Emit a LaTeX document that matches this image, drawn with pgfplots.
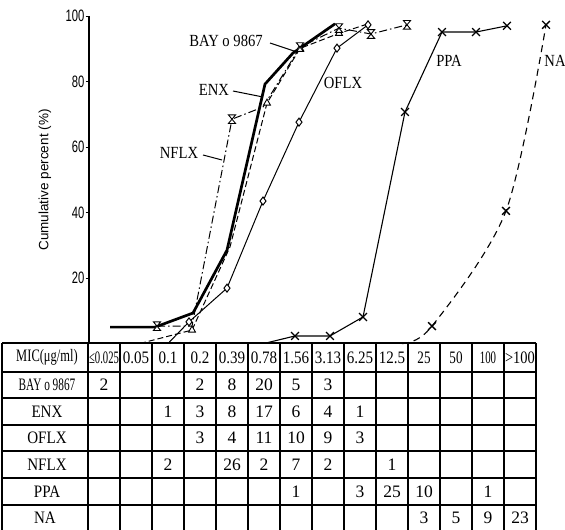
\documentclass[border=0pt]{standalone}
\usepackage{pgfplots}
\pgfplotsset{compat=1.18}
\usepackage{graphicx}
\usepackage{fontspec}
\setmainfont{Liberation Serif}
\newfontfamily\condsans[FakeStretch=0.68]{Liberation Sans}
\newfontfamily\lsans{Liberation Sans}
\newfontfamily\cserif[FakeStretch=0.86]{Liberation Serif}

\pgfdeclareplotmark{hourglass}{%
  \pgfpathmoveto{\pgfqpoint{-\pgfplotmarksize}{1.2\pgfplotmarksize}}%
  \pgfpathlineto{\pgfqpoint{\pgfplotmarksize}{1.2\pgfplotmarksize}}%
  \pgfpathlineto{\pgfqpoint{-\pgfplotmarksize}{-1.2\pgfplotmarksize}}%
  \pgfpathlineto{\pgfqpoint{\pgfplotmarksize}{-1.2\pgfplotmarksize}}%
  \pgfpathclose
  \pgfusepathqfillstroke}

\newcommand{\hs}[2]{\scalebox{#1}[1]{#2}}

\begin{document}
\begin{tikzpicture}[x=1pt,y=1pt]
\begin{axis}[
  at={(89pt,186.5pt)}, anchor=south west,
  scale only axis, width=471pt, height=327.5pt,
  xmin=89, xmax=560, ymin=0, ymax=100,
  axis x line=none, axis y line=left,
  axis line style={line width=1.3pt,-},
  ytick={20,40,60,80,100},
  tick align=outside, major tick length=3.5pt,
  ytick style={line width=0.9pt, black},
  yticklabel style={font=\condsans\fontsize{16.5}{16.5}\selectfont, inner xsep=1pt},
  /pgf/number format/assume math mode=true,
  clip=false,
]
% BAY o 9867
\addplot[black, line width=2.7pt, line join=round] coordinates {
 (110,5.0) (155,5.0) (193,9.3) (227,28.5) (265,79.2) (293,88.7) (335,97.6)};
% ENX
\addplot[black, line width=1pt, dash pattern=on 6pt off 3pt,
  mark=triangle*, mark size=4pt, mark indices={2,4,5,6},
  mark options={solid, fill=white, line width=0.9pt}] coordinates {
 (140,0) (192,4.1) (230,29.5) (267,73.4) (300,90.1) (339,94.7) (368,97.6)};
% OFLX
\addplot[black, line width=1pt,
  mark=diamond*, mark size=4pt, mark indices={2,3,4,5,6,7},
  mark options={solid, fill=white, line width=1pt}] coordinates {
 (168,0) (189,6.6) (227,16.9) (263,43.5) (299,67.6) (337,90.2) (368,97.3)};
% NFLX
\addplot[black, line width=1pt, dash pattern=on 8pt off 3pt on 1.5pt off 3pt,
  mark=hourglass, mark size=3.6pt, mark indices={1,3,5,6,7,8},
  mark options={solid, fill=white, line width=0.9pt}] coordinates {
 (157,5.3) (192,5.3) (232,68.5) (263,72.2) (300,90.5) (339,96.3) (371,94.5) (407,97.3)};
% PPA
\addplot[black, line width=1.1pt,
  mark=x, mark size=5.5pt, mark indices={2,3,4,5,6,7,8},
  mark options={solid, line width=1.3pt}] coordinates {
 (268,0.3) (295,2.3) (330,2.3) (363,8.1) (405,70.7) (442,95.1) (476,95.1) (507,97.0)};
% NA
\addplot[black, line width=1.1pt, dash pattern=on 7pt off 5pt, smooth,
  mark=x, mark size=5.5pt, mark indices={2,3,4},
  mark options={solid, line width=1.3pt}] coordinates {
 (402,0) (432,5.3) (506,40.5) (546,97.3)};
\end{axis}

\begin{scope}[y=-1pt, yshift=530pt]
  % y label
  \node[rotate=90, font=\lsans\fontsize{13.5}{14}\selectfont] at (45,180) {Cumulative percent (\%)};
  % series labels
  \begin{scope}[every node/.style={font=\cserif\fontsize{17}{17}\selectfont, inner sep=0pt}]
    \node at (226,41) {BAY o 9867};
    \node at (214,90) {ENX};
    \node at (179,153) {NFLX};
    \node at (343,83) {OFLX};
    \node at (449,61) {PPA};
    \node at (555,61) {NA};
  \end{scope}
  \draw[line width=1pt] (270,43) -- (297,52);
  \draw[line width=1pt] (233,91) -- (263,97);
  \draw[line width=1pt] (203,155) -- (222,160);

  % table grid
  \draw[line width=1.2pt] (2,343) -- (536,343);
  \foreach \yy in {372,398,425,451,478,505} \draw[line width=1.1pt] (2,\yy) -- (536,\yy);
  \draw[line width=1.2pt] (2,531) -- (536,531);
  \draw[line width=1.2pt] (2,343) -- (2,531);
  \draw[line width=1.2pt] (88,343) -- (88,531);
  \foreach \k in {1,...,13} \draw[line width=1.1pt] ({88+32*\k},343) -- ({88+32*\k},531);
  \draw[line width=1.2pt] (536,343) -- (536,531);

  % header
  \begin{scope}[every node/.style={font=\cserif\fontsize{17.5}{17.5}\selectfont, inner sep=0pt}]
    \node at (47,357.5) {\hs{0.83}{MIC(μg/ml)}};
    \node at (104,357.5) {\hs{0.71}{≤0.025}};
    \node at (136,357.5) {0.05};
    \node at (168,357.5) {0.1};
    \node at (200,357.5) {0.2};
    \node at (232,357.5) {0.39};
    \node at (264,357.5) {0.78};
    \node at (296,357.5) {1.56};
    \node at (328,357.5) {3.13};
    \node at (360,357.5) {6.25};
    \node at (392,357.5) {12.5};
    \node at (424,357.5) {\hs{0.87}{25}};
    \node at (456,357.5) {\hs{0.87}{50}};
    \node at (488,357.5) {\hs{0.72}{100}};
    \node at (520,357.5) {\hs{0.96}{>100}};
    % row labels
    \node at (47,385) {\hs{0.75}{BAY o 9867}};
    \node at (47,411.5) {ENX};
    \node at (47,438) {OFLX};
    \node at (47,464.5) {NFLX};
    \node at (47,491.5) {PPA};
    \node at (45,518) {NA};
  \end{scope}
  % cell values
  \begin{scope}[every node/.style={font=\fontsize{17.5}{17.5}\selectfont, inner sep=0pt}]
    \foreach \c/\v in {1/2,4/2,5/8,6/20,7/5,8/3} \node at ({72+32*\c},385) {\v};
    \foreach \c/\v in {3/1,4/3,5/8,6/17,7/6,8/4,9/1} \node at ({72+32*\c},411.5) {\v};
    \foreach \c/\v in {4/3,5/4,6/11,7/10,8/9,9/3} \node at ({72+32*\c},438) {\v};
    \foreach \c/\v in {3/2,5/26,6/2,7/7,8/2,10/1} \node at ({72+32*\c},464.5) {\v};
    \foreach \c/\v in {7/1,9/3,10/25,11/10,13/1} \node at ({72+32*\c},491.5) {\v};
    \foreach \c/\v in {11/3,12/5,13/9} \node at ({72+32*\c},518) {\v};
    \node at (520,518) {23};
  \end{scope}
\end{scope}
\pgfresetboundingbox
\useasboundingbox (0,0) rectangle (565,530);
\end{tikzpicture}
\end{document}
